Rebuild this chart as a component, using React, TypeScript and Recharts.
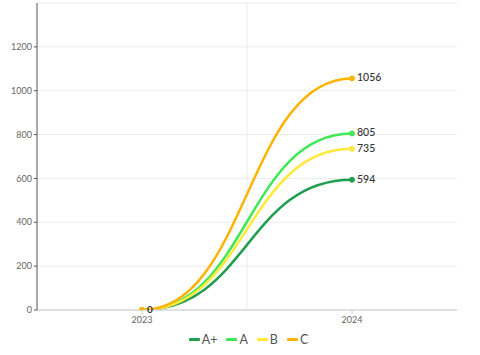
import React from 'react';
import { LineChart, Line, XAxis, YAxis, CartesianGrid, Legend, ReferenceLine, LabelList } from 'recharts';

const years = [2023, 2024];
const seriesNames = ['A+', 'A', 'B', 'C'];
const aPlus = [0, 594];
const aVals = [0, 805];
const bVals = [0, 735];
const cVals = [0, 1056];
const yTicks = [0, 200, 400, 600, 800, 1000, 1200];
const colors = ['#1f9e4f', '#3fe854', '#ffe93a', '#ffb300'];

const data = years.map((y, i) => ({
  year: y,
  'A+': aPlus[i],
  A: aVals[i],
  B: bVals[i],
  C: cVals[i],
}));

const FONT = 'Lato, "Noto Sans", sans-serif';

const renderLegend = () => (
  <div style={{ display: 'flex', justifyContent: 'center', alignItems: 'center', fontFamily: FONT, fontSize: 12.5, color: '#555', paddingLeft: 40 }}>
    {seriesNames.map((n, i) => (
      <div key={n} style={{ display: 'flex', alignItems: 'center', marginRight: i === seriesNames.length - 1 ? 0 : 9 }}>
        <span style={{ display: 'inline-block', width: 11, height: 3, background: colors[i], marginRight: 2, borderRadius: 1 }} />
        <span>{n}</span>
      </div>
    ))}
  </div>
);

const makeLabel = (isLast: boolean) => (props: any) => {
  const { x, y, value } = props;
  if (value === 0 && !isLast) return null;
  return (
    <text x={x + 5} y={y} dy={value === 0 ? 2.5 : 3} fill="#333" fontSize={value === 0 ? 10 : 10.5} fontFamily={FONT} fontWeight={value === 0 ? 700 : 500}>
      {value}
    </text>
  );
};

export default function App() {
  return (
    <div style={{ position: 'absolute', left: 0, top: 0, width: 480, height: 355, background: '#fff' }}>
      <LineChart width={480} height={355} data={data} margin={{ top: 3, right: 23, bottom: 0, left: 0 }}>
        <CartesianGrid vertical={false} stroke="#ebebeb" />
        <ReferenceLine x={2023.5} stroke="#ebebeb" />
        <XAxis
          dataKey="year"
          type="number"
          domain={[2022.5, 2024.5]}
          allowDataOverflow
          ticks={years}
          interval={0}
          height={22}
          stroke="#cccccc"
          tickLine={{ stroke: '#cccccc' }}
          tickSize={4}
          tick={{ fill: '#666', fontSize: 9, fontFamily: FONT, dy: 1 }}
        />
        <YAxis
          width={37}
          domain={[0, 1400]}
          allowDataOverflow
          ticks={yTicks}
          stroke="#555"
          tickLine={{ stroke: '#555' }}
          tickSize={3}
          tick={{ fill: '#666', fontSize: 9, fontFamily: FONT }}
        />
        <Legend verticalAlign="bottom" height={23} content={renderLegend} />
        {seriesNames.map((n, i) => (
          <Line
            key={n}
            type="bumpX"
            dataKey={n}
            stroke={colors[i]}
            strokeWidth={2.5}
            dot={{ r: 2.5, fill: colors[i], stroke: colors[i], strokeWidth: 1 }}
            activeDot={false}
            isAnimationActive={false}
          >
            <LabelList dataKey={n} content={makeLabel(i === seriesNames.length - 1)} />
          </Line>
        ))}
      </LineChart>
    </div>
  );
}
